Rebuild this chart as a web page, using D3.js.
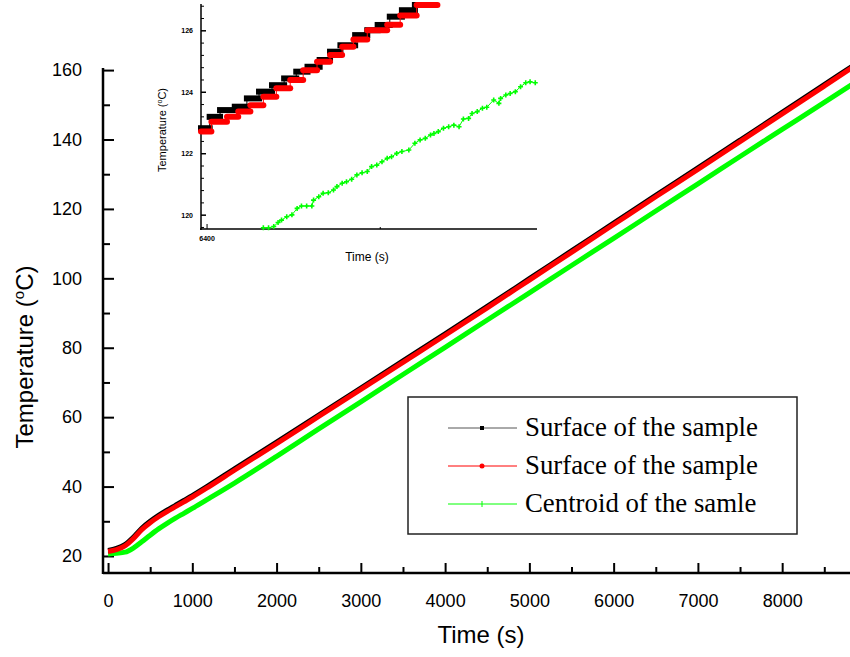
<!DOCTYPE html>
<html>
<head>
<meta charset="utf-8">
<script src="https://cdn.jsdelivr.net/npm/d3@7"></script>
<style>
  body { margin: 0; background: #fff; }
  svg { display: block; }
  text { font-family: "Liberation Sans", Arial, sans-serif; }
  text.serif { font-family: "Liberation Serif", "Times New Roman", serif; }
</style>
</head>
<body>
<div id="graphicContainer"></div>
<script>
// main chart readings (time in s, temperature in degC)
var times = [0, 100, 200, 300, 400, 500, 600, 700, 800, 900, 1000, 1200, 1500, 2000, 2500, 3000, 3500, 4000, 4500, 5000, 5500, 6000, 6500, 7000, 7500, 8000, 8500, 8850]
var surfaceBlack = [21.6, 22.2, 23.3, 25.4, 28.0, 30.0, 31.7, 33.2, 34.6, 36.0, 37.4, 40.4, 45.1, 52.8, 60.6, 68.4, 76.2, 84.0, 91.9, 99.9, 107.9, 115.9, 123.9, 131.8, 139.8, 147.8, 155.8, 161.4]
var surfaceRed = [21.3, 21.8, 22.9, 25.0, 27.6, 29.6, 31.3, 32.8, 34.2, 35.6, 37.0, 40.0, 44.7, 52.4, 60.2, 68.0, 75.8, 83.6, 91.5, 99.5, 107.5, 115.5, 123.5, 131.4, 139.4, 147.4, 155.4, 161.0]
var centroid = [20.6, 20.8, 21.1, 22.3, 24.1, 26.0, 27.8, 29.4, 30.9, 32.3, 33.7, 36.6, 41.0, 48.7, 56.6, 64.4, 72.3, 80.1, 88.0, 95.8, 103.7, 111.5, 119.4, 127.2, 135.1, 142.9, 150.7, 156.2]

var xTicks = [0, 1000, 2000, 3000, 4000, 5000, 6000, 7000, 8000]
var yTicks = [20, 40, 60, 80, 100, 120, 140, 160]

var legendLabels = ["Surface of the sample", "Surface of the sample", "Centroid of the samle"]
var seriesColors = ["#000000", "#ff0000", "#00ff00"]

// inset: logged steps [start s, end s, degC]
var insetBlack = [[6393, 6403, 122.83], [6403, 6415, 123.2], [6415, 6432, 123.42], [6432, 6446, 123.53], [6446, 6460, 123.8], [6460, 6475, 124.02], [6475, 6489, 124.23], [6489, 6503, 124.45], [6503, 6516, 124.67], [6516, 6530, 124.83], [6530, 6542, 125.05], [6542, 6554, 125.32], [6554, 6571, 125.53], [6571, 6585, 125.86], [6585, 6597, 126.02], [6597, 6611, 126.19], [6611, 6625, 126.46], [6625, 6640, 126.67], [6640, 6652, 126.84]]
var insetRed = [[6393, 6405, 122.72], [6405, 6423, 123.04], [6423, 6436, 123.2], [6436, 6450, 123.37], [6450, 6465, 123.58], [6465, 6480, 123.85], [6480, 6496, 124.13], [6496, 6511, 124.4], [6511, 6527, 124.72], [6527, 6542, 124.99], [6542, 6556, 125.21], [6556, 6569, 125.48], [6569, 6585, 125.72], [6585, 6608, 126.02], [6608, 6623, 126.2], [6623, 6642, 126.5], [6642, 6666, 126.84]]
var insetGreenT = [6465, 6471, 6477, 6482, 6486, 6492, 6498, 6504, 6509, 6515, 6521, 6523, 6529, 6534, 6540, 6546, 6550, 6556, 6561, 6567, 6573, 6579, 6585, 6590, 6596, 6602, 6608, 6613, 6619, 6625, 6633, 6640, 6646, 6652, 6658, 6662, 6667, 6673, 6679, 6685, 6691, 6696, 6702, 6706, 6712, 6718, 6723, 6731, 6737, 6739, 6745, 6750, 6756, 6762, 6768, 6773, 6779]
var insetGreenV = [119.59, 119.59, 119.63, 119.76, 119.84, 119.95, 120.01, 120.22, 120.30, 120.30, 120.30, 120.49, 120.60, 120.71, 120.73, 120.82, 120.93, 121.04, 121.09, 121.17, 121.31, 121.38, 121.42, 121.58, 121.63, 121.74, 121.85, 121.90, 122.01, 122.07, 122.12, 122.34, 122.45, 122.50, 122.61, 122.66, 122.72, 122.83, 122.88, 122.93, 122.88, 123.13, 123.15, 123.31, 123.37, 123.48, 123.51, 123.75, 123.64, 123.80, 123.91, 123.96, 124.02, 124.18, 124.31, 124.34, 124.31]
var insetYTicks = [120, 122, 124, 126]
var insetXTicks = [6400]

var width = 850, height = 657

var svg = d3.select("#graphicContainer").append("svg")
    .attr("width", width)
    .attr("height", height)

var x = d3.scaleLinear().domain([-60, 8805]).range([103, 850])
var y = d3.scaleLinear().domain([15.1, 160.6]).range([573, 68])

// axes, ticks pointing inward
var xAxis = svg.append("g").attr("transform", "translate(0,573)")
xAxis.call(d3.axisBottom(x).tickValues(d3.range(500, 8805, 1000)).tickSize(-6).tickFormat(""))
xAxis.call(g => g.append("g").call(d3.axisBottom(x).tickValues(xTicks).tickSize(-10).tickPadding(18).tickFormat(d3.format("d"))))
xAxis.selectAll("line").attr("stroke", "#000").attr("stroke-width", 2)
xAxis.selectAll(".domain").remove()
xAxis.append("line").attr("x1", 103).attr("x2", 850).attr("stroke", "#000").attr("stroke-width", 2.5)
xAxis.selectAll("text").attr("font-size", 18).attr("fill", "#000").attr("dy", "0.9em")

var yAxis = svg.append("g").attr("transform", "translate(103,0)")
yAxis.call(d3.axisLeft(y).tickValues(d3.range(30, 160, 20)).tickSize(-7).tickFormat(""))
yAxis.call(g => g.append("g").call(d3.axisLeft(y).tickValues(yTicks).tickSize(-11).tickPadding(21)))
yAxis.selectAll("line").attr("stroke", "#000").attr("stroke-width", 2)
yAxis.selectAll(".domain").remove()
yAxis.append("line").attr("y1", 68).attr("y2", 574).attr("stroke", "#000").attr("stroke-width", 2.5)
yAxis.selectAll("text").attr("font-size", 18).attr("fill", "#000")

svg.append("text")
    .attr("x", 481).attr("y", 643)
    .attr("text-anchor", "middle")
    .attr("font-size", 24)
    .text("Time (s)")

var yLab = svg.append("text")
    .attr("transform", "translate(33,357) rotate(-90)")
    .attr("text-anchor", "middle")
    .attr("font-size", 24)
yLab.append("tspan").text("Temperature (")
yLab.append("tspan").attr("font-size", 15).attr("dy", -9).text("o")
yLab.append("tspan").attr("dy", 9).text("C)")

// main lines
var line = d3.line().curve(d3.curveMonotoneX).x((d, i) => x(times[i])).y(d => y(d))
svg.append("path").datum(centroid).attr("d", line)
    .attr("fill", "none").attr("stroke", seriesColors[2]).attr("stroke-width", 5)
svg.append("path").datum(surfaceBlack).attr("d", line)
    .attr("fill", "none").attr("stroke", seriesColors[0]).attr("stroke-width", 5)
svg.append("path").datum(surfaceRed).attr("d", line)
    .attr("fill", "none").attr("stroke", seriesColors[1]).attr("stroke-width", 5)

// legend
var legend = svg.append("g")
legend.append("rect")
    .attr("x", 408).attr("y", 397).attr("width", 389).attr("height", 137)
    .attr("fill", "#fff").attr("stroke", "#222").attr("stroke-width", 1.5)
legendLabels.forEach(function(d, i) {
    var ly = 428 + i * 38
    legend.append("line").attr("x1", 448).attr("x2", 517).attr("y1", ly).attr("y2", ly)
        .attr("stroke", i == 0 ? "#555" : seriesColors[i]).attr("stroke-width", 1)
    if (i == 0) {
        legend.append("rect").attr("x", 480).attr("y", ly - 2).attr("width", 4).attr("height", 4).attr("fill", "#000")
    } else if (i == 1) {
        legend.append("circle").attr("cx", 482).attr("cy", ly).attr("r", 2.5).attr("fill", seriesColors[1])
    } else {
        legend.append("line").attr("x1", 482).attr("x2", 482).attr("y1", ly - 3).attr("y2", ly + 3)
            .attr("stroke", seriesColors[2]).attr("stroke-width", 1)
    }
    legend.append("text")
        .attr("class", "serif")
        .attr("x", 525).attr("y", ly + 8)
        .attr("font-size", 26.8)
        .text(d)
})

// inset
var ix = d3.scaleLinear().domain([6393, 6781]).range([201, 537])
var iy = d3.scaleLinear().domain([119.55, 126.84]).range([229, 5])
var inset = svg.append("g")

inset.append("line").attr("x1", 201).attr("x2", 201).attr("y1", 4).attr("y2", 230).attr("stroke", "#000").attr("stroke-width", 1.5)
inset.append("line").attr("x1", 200).attr("x2", 537).attr("y1", 229).attr("y2", 229).attr("stroke", "#000").attr("stroke-width", 1.5)

var iyMinor = d3.range(119.6, 126.9, 0.4).filter(v => Math.abs(v / 2 - Math.round(v / 2)) > 0.01)
inset.selectAll(".iyMinor").data(iyMinor).enter().append("line")
    .attr("x1", 201).attr("x2", 204).attr("y1", d => iy(d)).attr("y2", d => iy(d))
    .attr("stroke", "#000").attr("stroke-width", 1)
inset.selectAll(".iyMajor").data(insetYTicks).enter().append("line")
    .attr("x1", 201).attr("x2", 206).attr("y1", d => iy(d)).attr("y2", d => iy(d))
    .attr("stroke", "#000").attr("stroke-width", 1.5)
inset.selectAll(".iyLab").data(insetYTicks).enter().append("text")
    .attr("x", 193).attr("y", d => iy(d) + 2.5)
    .attr("text-anchor", "end").attr("font-size", 7).attr("font-weight", "bold")
    .text(d => d)
inset.selectAll(".ixMajor").data(insetXTicks).enter().append("line")
    .attr("x1", d => ix(d)).attr("x2", d => ix(d)).attr("y1", 229).attr("y2", 224)
    .attr("stroke", "#000").attr("stroke-width", 1)
inset.append("line")
    .attr("x1", ix(6600)).attr("x2", ix(6600)).attr("y1", 229).attr("y2", 227)
    .attr("stroke", "#000").attr("stroke-width", 1)
inset.selectAll(".ixLab").data(insetXTicks).enter().append("text")
    .attr("x", d => ix(d)).attr("y", 241)
    .attr("text-anchor", "middle").attr("font-size", 7).attr("font-weight", "bold")
    .text(d => d)

inset.append("text")
    .attr("x", 367).attr("y", 261)
    .attr("text-anchor", "middle").attr("font-size", 12)
    .text("Time (s)")
var iyLabel = inset.append("text")
    .attr("transform", "translate(166,130) rotate(-90)")
    .attr("text-anchor", "middle").attr("font-size", 11)
iyLabel.append("tspan").text("Temperature (")
iyLabel.append("tspan").attr("font-size", 7).attr("dy", -4).text("o")
iyLabel.append("tspan").attr("dy", 4).text("C)")

function drawSteps(steps, color, shape) {
    var stepLine = d3.line().curve(d3.curveStepAfter).x(d => ix(d[0])).y(d => iy(d[2]))
    inset.append("path").datum(steps.concat([[steps[steps.length - 1][1], 0, steps[steps.length - 1][2]]]))
        .attr("d", stepLine).attr("fill", "none").attr("stroke", color).attr("stroke-width", 1)
    inset.selectAll(null).data(steps).enter().append("rect")
        .attr("x", d => ix(d[0]) - 3)
        .attr("y", d => iy(d[2]) - 3)
        .attr("width", d => ix(d[1]) - ix(d[0]) + 6)
        .attr("height", 6)
        .attr("rx", shape == "circle" ? 3 : 0)
        .attr("fill", color)
}
drawSteps(insetBlack, "#000", "square")
drawSteps(insetRed, "#ff0000", "circle")

var gLine = d3.line().x((d, i) => ix(insetGreenT[i])).y(d => iy(d))
inset.append("path").datum(insetGreenV).attr("d", gLine)
    .attr("fill", "none").attr("stroke", "#00ff00").attr("stroke-width", 1)
inset.selectAll(".gm").data(insetGreenV).enter().append("path")
    .attr("d", (d, i) => {
        var px = ix(insetGreenT[i]), py = iy(d)
        return "M" + (px - 2.5) + "," + py + "H" + (px + 2.5) + "M" + px + "," + (py - 2.5) + "V" + (py + 2.5)
    })
    .attr("stroke", "#00ff00").attr("stroke-width", 1.6)
</script>
</body>
</html>
